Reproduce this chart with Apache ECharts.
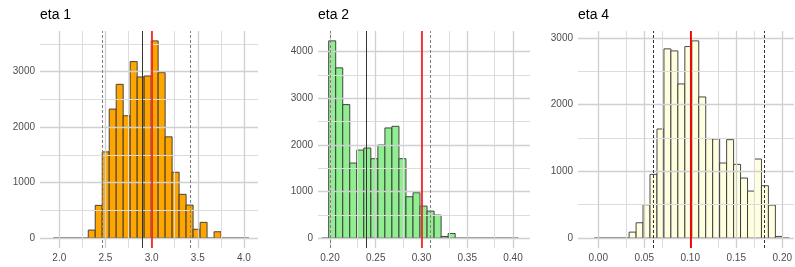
<!DOCTYPE html>
<html>
<head>
<meta charset="utf-8">
<script src="https://cdn.jsdelivr.net/npm/echarts@6/dist/echarts.min.js"></script>
<style>
html, body { margin: 0; padding: 0; background: #fff; }
#chart { width: 795px; height: 267px; }
</style>
</head>
<body>
<div id="chart"></div>
<script>
// eta 1 histogram
const eta1Start = 1.935, eta1Width = 0.0757;
const eta1Counts = [0, 0, 0, 0, 0, 145, 590, 1554, 2325, 2771, 2205, 3181, 2904, 2922, 3554, 2982, 1825, 1187, 789, 596, 160, 284, 0, 115, 0, 0, 0, 0];
const eta1XTicks = [2.0, 2.5, 3.0, 3.5, 4.0];
const eta1XMinor = [2.25, 2.75, 3.25, 3.75];
const eta1YTicks = [0, 1000, 2000, 3000];
const eta1YMinor = [500, 1500, 2500, 3500];
const eta1Dashed = [2.465, 3.415];
const eta1Mean = 2.90;
const eta1True = 3.0;

// eta 2 histogram
const eta2Start = 0.1909, eta2Width = 0.00768;
const eta2Counts = [0, 4227, 3648, 2861, 1609, 1888, 1931, 1702, 1996, 2361, 2396, 1702, 887, 973, 687, 579, 494, 36, 100, 0, 0, 0, 0, 0, 0, 0, 0, 0];
const eta2XTicks = [0.20, 0.25, 0.30, 0.35, 0.40];
const eta2XMinor = [0.225, 0.275, 0.325, 0.375];
const eta2YTicks = [0, 1000, 2000, 3000, 4000];
const eta2YMinor = [500, 1500, 2500, 3500];
const eta2Dashed = [0.2008, 0.3122];
const eta2Mean = 0.2408;
const eta2True = 0.30;

// eta 4 histogram
const eta4Start = -0.0043, eta4Width = 0.00757;
const eta4Counts = [0, 0, 0, 0, 0, 90, 230, 500, 955, 1635, 2835, 2805, 2310, 2870, 2955, 2115, 1490, 1485, 1125, 1475, 1105, 900, 705, 1185, 785, 495, 25, 0];
const eta4XTicks = [0.00, 0.05, 0.10, 0.15, 0.20];
const eta4XMinor = [0.025, 0.075, 0.125, 0.175];
const eta4YTicks = [0, 1000, 2000, 3000];
const eta4YMinor = [500, 1500, 2500];
const eta4Dashed = [0.0551, 0.1816];
const eta4Mean = 0.1038;
const eta4True = 0.0991;

const chart = echarts.init(document.getElementById('chart'));

const panels = [
  { title: 'eta 1', left: 40, width: 218, xMin: 1.791, xMax: 4.152, yMin: -178, yMax: 3732, digits: 1,
    start: eta1Start, w: eta1Width, counts: eta1Counts, fill: '#ffa500',
    xt: eta1XTicks, xm: eta1XMinor, yt: eta1YTicks, ym: eta1YMinor,
    dashed: eta1Dashed, mean: eta1Mean, truth: eta1True, dashColor: '#808080', redWidth: 1.5 },
  { title: 'eta 2', left: 318, width: 212, xMin: 0.1869, xMax: 0.4186, yMin: -211, yMax: 4438, digits: 2,
    start: eta2Start, w: eta2Width, counts: eta2Counts, fill: '#90ee90',
    xt: eta2XTicks, xm: eta2XMinor, yt: eta2YTicks, ym: eta2YMinor,
    dashed: eta2Dashed, mean: eta2Mean, truth: eta2True, dashColor: '#808080', redWidth: 1.5 },
  { title: 'eta 4', left: 578, width: 217, xMin: -0.022, xMax: 0.2126, yMin: -148, yMax: 3103, digits: 2,
    start: eta4Start, w: eta4Width, counts: eta4Counts, fill: '#ffffe0',
    xt: eta4XTicks, xm: eta4XMinor, yt: eta4YTicks, ym: eta4YMinor,
    dashed: eta4Dashed, mean: eta4Mean, truth: eta4True, dashColor: '#333333', redWidth: 1.8 }
];

const labelStyle = { color: '#4d4d4d', fontSize: 10, fontFamily: 'Liberation Sans' };
const title = [], grid = [], xAxis = [], yAxis = [], series = [];

panels.forEach(function (p, i) {
  title.push({ text: p.title, left: p.left, top: 8, padding: 0,
    textStyle: { fontSize: 14, fontWeight: 'normal', color: '#000', fontFamily: 'Liberation Sans' } });
  grid.push({ left: p.left, top: 31, width: p.width, height: 217 });
  xAxis.push({
    type: 'value', gridIndex: i, min: p.xMin, max: p.xMax,
    axisLine: { show: false }, axisTick: { show: false }, splitLine: { show: false },
    axisLabel: Object.assign({ customValues: p.xt, margin: 5,
      formatter: function (v) { return v.toFixed(p.digits); } }, labelStyle)
  });
  yAxis.push({
    type: 'value', gridIndex: i, min: p.yMin, max: p.yMax,
    axisLine: { show: false }, axisTick: { show: false }, splitLine: { show: false },
    axisLabel: Object.assign({ customValues: p.yt, margin: 5,
      formatter: function (v) { return String(Math.round(v)); } }, labelStyle)
  });

  // grid lines
  const gl = [];
  p.xm.forEach(function (v) { gl.push({ xAxis: v, lineStyle: { color: '#dcdcdc', width: 1 } }); });
  p.ym.forEach(function (v) { gl.push({ yAxis: v, lineStyle: { color: '#dcdcdc', width: 1 } }); });
  p.xt.forEach(function (v) { gl.push({ xAxis: v, lineStyle: { color: '#d0d0d0', width: 1.3 } }); });
  p.yt.forEach(function (v) { gl.push({ yAxis: v, lineStyle: { color: '#d0d0d0', width: 1.3 } }); });
  series.push({
    type: 'scatter', xAxisIndex: i, yAxisIndex: i, data: [], z: 1, silent: true,
    markLine: { symbol: 'none', silent: true, animation: false, label: { show: false },
      lineStyle: { type: 'solid' }, data: gl }
  });

  // histogram bars
  const bins = p.counts.map(function (c, k) {
    return [p.start + k * p.w, p.start + (k + 1) * p.w, c];
  });
  series.push({
    type: 'custom', xAxisIndex: i, yAxisIndex: i, z: 2, data: bins,
    encode: { x: [0, 1], y: 2 },
    renderItem: function (params, api) {
      const c = api.value(2);
      const a = api.coord([api.value(0), c]);
      const b = api.coord([api.value(1), 0]);
      return {
        type: 'rect',
        shape: { x: a[0], y: a[1], width: b[0] - a[0], height: b[1] - a[1] },
        style: { fill: c > 0 ? p.fill : 'none', stroke: '#333', lineWidth: 0.9 }
      };
    }
  });

  // reference lines
  const vl = [];
  p.dashed.forEach(function (v) {
    vl.push({ xAxis: v, lineStyle: { color: p.dashColor, width: 1, type: [3, 2] } });
  });
  vl.push({ xAxis: p.mean, lineStyle: { color: '#333', width: 1, type: 'solid' } });
  vl.push({ xAxis: p.truth, lineStyle: { color: '#ff0000', width: p.redWidth, type: 'solid', opacity: 1 } });
  series.push({
    type: 'scatter', xAxisIndex: i, yAxisIndex: i, data: [], z: 3, silent: true,
    markLine: { symbol: 'none', silent: true, animation: false, label: { show: false },
      emphasis: { disabled: true }, data: vl }
  });
});

chart.setOption({
  animation: false,
  title: title,
  grid: grid,
  xAxis: xAxis,
  yAxis: yAxis,
  series: series
});
</script>
</body>
</html>
